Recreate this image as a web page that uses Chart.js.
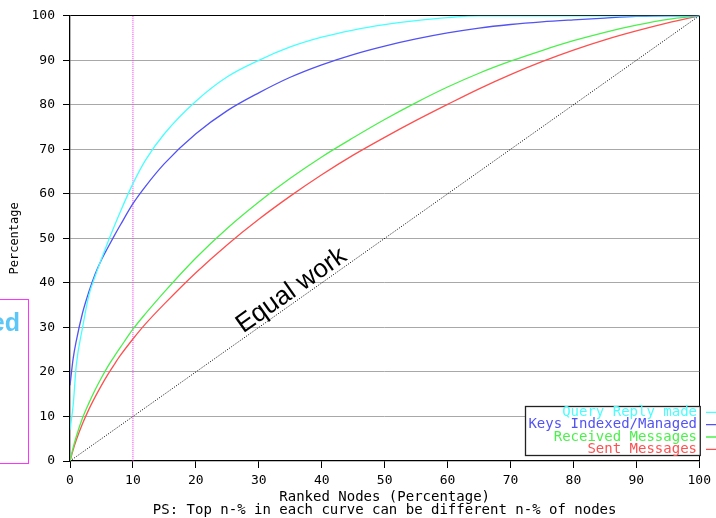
<!DOCTYPE html>
<html><head><meta charset="utf-8">
<script src="https://cdn.jsdelivr.net/npm/chart.js@4/dist/chart.umd.min.js"></script>
<style>
html,body{margin:0;padding:0;background:#fff;overflow:hidden}
#wrap{position:relative;width:716px;height:518px;overflow:hidden}
canvas{position:absolute;left:0;top:0}
#side{position:absolute;left:-10px;top:299px;width:39px;height:165px;border:1px solid #ff33ff;box-sizing:border-box}
#side span{position:absolute;right:8px;top:10px;font:bold 25px/25px "Liberation Sans",Arial,sans-serif;color:#5cc6f6}
</style></head><body>
<div id="wrap"><canvas id="c" width="716" height="518"></canvas><div id="side"><span>ed</span></div></div>
<script>
// ---- data ----
const rankX = [0,0.5,1,2,3,4,5,6,7,8,10,12,15,20,25,30,35,40,45,50,55,60,65,70,75,80,85,90,95,100];
const queryReply  = [7,12.5,21.5,30,37.2,41.5,45.4,49.1,52.6,56,62.3,67.6,73.5,80.8,86.3,90,93,95.2,96.8,98,98.9,99.6,100,100,100,100,100,100,100,100];
const keysIndexed = [17,23,27,33.3,38,42,45.2,47.9,50.5,53,57.8,61.7,66.8,73.5,78.7,82.7,86.2,89,91.3,93.2,94.8,96.15,97.25,98.05,98.65,99.1,99.5,99.85,100,100];
const receivedMsgs= [0,3,5.5,9.7,13,16,18.7,21.2,23.4,25.5,29.6,33.1,38,45.6,52.3,58.2,63.5,68.3,72.6,76.7,80.5,84,87.1,89.8,92.2,94.4,96.3,97.9,99.2,100];
const sentMsgs    = [0,2.5,4.7,8.4,11.6,14.4,17,19.4,21.6,23.7,27.4,30.8,35.3,42.3,48.6,54.3,59.5,64.3,68.7,72.7,76.5,80.1,83.6,86.8,89.7,92.3,94.6,96.6,98.4,100];
const seriesLabels = ['Query Reply made','Keys Indexed/Managed','Received Messages','Sent Messages'];
const equalX = [0,100], equalY = [0,100];
const markerX = [10,10], markerY = [0,100];
const equalLabel = 'Equal work';
const equalLabelPos = [35.2, 38.3];
const xTitle = ['Ranked Nodes (Percentage)','PS: Top n-% in each curve can be different n-% of nodes'];
const yTitle = 'Percentage';
// --------------------------------------

const pts = (xs, ys) => xs.map((x,i)=>({x, y: ys[i]}));
const mono = '"DejaVu Sans Mono", "Liberation Mono", monospace';

const equalTextPlugin = {
  id:'equalText',
  afterDatasetsDraw(chart){
    const {ctx, scales:{x,y}} = chart;
    const ang = Math.atan2(y.getPixelForValue(equalY[1]) - y.getPixelForValue(equalY[0]),
                           x.getPixelForValue(equalX[1]) - x.getPixelForValue(equalX[0]));
    ctx.save();
    ctx.translate(x.getPixelForValue(equalLabelPos[0]), y.getPixelForValue(equalLabelPos[1]));
    ctx.rotate(ang);
    ctx.font = '26px "Liberation Sans", Arial, sans-serif';
    ctx.fillStyle = '#000';
    ctx.textAlign = 'center';
    ctx.textBaseline = 'middle';
    ctx.fillText(equalLabel, 0, 0);
    ctx.restore();
  }
};

const legendPlugin = {
  id:'boxLegend',
  afterDraw(chart){
    const {ctx, chartArea:a} = chart;
    const ds = chart.data.datasets.slice(0, seriesLabels.length);
    const left = 525.5, top = 406.5, right = a.right + 1, bottom = 455.5;
    ctx.save();
    ctx.fillStyle = '#fff';
    ctx.fillRect(left, top, right - left, bottom - top);
    ctx.strokeStyle = '#222';
    ctx.lineWidth = 1.3;
    ctx.strokeRect(left, top, right - left, bottom - top);
    ctx.font = '14px ' + mono;
    ctx.textAlign = 'right';
    ctx.textBaseline = 'middle';
    ds.forEach((d,i)=>{
      const yy = 412.3 + i*12.35;
      ctx.fillStyle = d.borderColor;
      ctx.fillText(d.label, 697, yy);
      ctx.strokeStyle = d.borderColor;
      ctx.lineWidth = 1.3;
      ctx.beginPath(); ctx.moveTo(706, yy); ctx.lineTo(740, yy); ctx.stroke();
    });
    ctx.restore();
  }
};

new Chart(document.getElementById('c'), {
  type:'line',
  data:{ datasets:[
    {label:seriesLabels[0], data:pts(rankX, queryReply),  borderColor:'#48ffff'},
    {label:seriesLabels[1], data:pts(rankX, keysIndexed), borderColor:'#5252f5'},
    {label:seriesLabels[2], data:pts(rankX, receivedMsgs),borderColor:'#4cf04c'},
    {label:seriesLabels[3], data:pts(rankX, sentMsgs),    borderColor:'#ff5050'},
    {label:equalLabel, data:pts(equalX, equalY), borderColor:'#000', borderWidth:1, borderDash:[1,1.6]},
    {label:'10%', data:pts(markerX, markerY), borderColor:'#ff33ff', borderWidth:1, borderDash:[1,1]}
  ]},
  options:{
    responsive:false, animation:false, devicePixelRatio:1,
    layout:{padding:{top:13,right:15,left:0,bottom:0}},
    elements:{point:{radius:0,hoverRadius:0}, line:{borderWidth:1.3, tension:0, cubicInterpolationMode:'monotone', fill:false}},
    plugins:{legend:{display:false}, tooltip:{enabled:false}},
    scales:{
      x:{
        type:'linear', min:0, max:100,
        ticks:{stepSize:10, color:'#000', font:{family:mono, size:13}, padding:5, maxRotation:0},
        grid:{color:c=> (c.tick && c.tick.value===100) ? '#000' : 'rgba(0,0,0,0)', tickColor:'#000', tickLength:7, lineWidth:1},
        border:{color:'#000', width:1.3},
        title:{display:true, text:xTitle, color:'#000', font:{family:mono, size:14, lineHeight:'13px'}, padding:{top:0,bottom:1}},
        afterFit:s=>{s.height = 57;}
      },
      y:{
        type:'linear', min:0, max:100,
        ticks:{stepSize:10, color:'#000', font:{family:mono, size:13}, padding:8},
        grid:{color:c=> (c.tick && c.tick.value===100) ? '#000' : (c.tick && c.tick.value===0 ? 'rgba(0,0,0,0)' : '#a8a8a8'), tickColor:'#000', tickLength:7, lineWidth:1},
        border:{color:'#000', width:1.3},
        title:{display:true, text:yTitle, color:'#000', font:{family:mono, size:12}, padding:{top:8,bottom:0}},
        afterFit:s=>{s.width = 70;}
      }
    }
  },
  plugins:[equalTextPlugin, legendPlugin]
});
</script>
</body></html>
